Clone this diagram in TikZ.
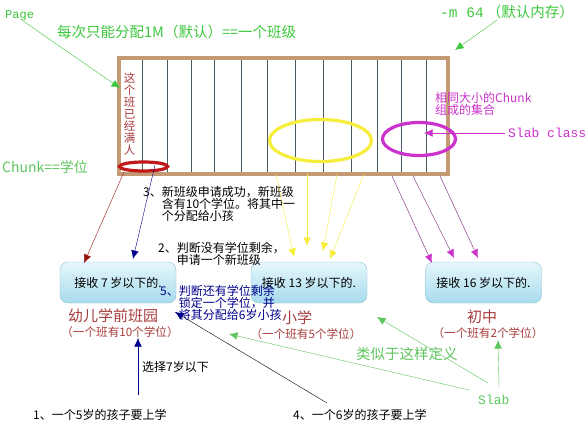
\documentclass[tikz,border=0pt]{standalone}
\usepackage{fontspec}
\setmainfont{Noto Sans CJK SC}
\newfontfamily\mono{Liberation Mono}
\usetikzlibrary{arrows.meta,shapes.geometric}
\definecolor{tgreen}{HTML}{3CC83C}
\definecolor{lgreen}{HTML}{5EC65E}
\definecolor{tanc}{HTML}{C49A74}
\definecolor{slate}{HTML}{4B5B66}
\definecolor{dred}{HTML}{A83C3C}
\definecolor{ered}{HTML}{C01818}
\definecolor{mag}{HTML}{CC33CC}
\definecolor{navy}{HTML}{00008C}
\definecolor{yel}{HTML}{F6EE3A}
\definecolor{purp}{HTML}{7A1A7A}
\definecolor{boxtop}{HTML}{E6F7FC}
\definecolor{boxbot}{HTML}{A6DBEC}
\definecolor{boxline}{HTML}{8CC2D4}
\tikzset{
  lbl/.style={inner sep=0pt},
  arr/.style={-{Latex[length=8.5pt,width=7.5pt]}},
  stepbox/.style={draw=boxline, rounded corners=8pt, top color=boxtop, bottom color=boxbot,
    minimum width=116pt, minimum height=41pt, inner sep=0pt, font=\fontsize{12}{12}\selectfont},
  ring/.style={ellipse, inner sep=0pt, line width=3.2pt},
  f12/.style={font=\fontsize{12}{11}\selectfont},
}
\begin{document}
\begin{tikzpicture}[x=1pt,y=-1pt]
\useasboundingbox (0,0) rectangle (588,428);
\fill[white] (0,0) rectangle (588,428);

% memory block
\foreach \x in {142,167,191,214,241,267,295,323,351,377,401,426}
  \draw[slate, line width=0.8pt] (\x,58) -- (\x,174);
\draw[tanc, line width=3.2pt] (119,58) rectangle (448,174);

\node[lbl, dred, align=center, font=\fontsize{11.5}{12}\selectfont] (full) at (129.5,114) {这\\个\\班\\已\\经\\满\\人};

% ellipses
\node[ring, draw=ered, minimum width=48pt, minimum height=9pt] (redE) at (143.5,166.5) {};
\node[ring, draw=yel, minimum width=102pt, minimum height=42pt] (yelE) at (320.5,140.5) {};
\node[ring, draw=mag, minimum width=73pt, minimum height=33pt] (magE) at (419,139) {};

% top labels
\node[lbl, tgreen, anchor=west, font=\mono\fontsize{12}{12}\selectfont] (page) at (5,16) {Page};
\node[lbl, tgreen, anchor=west, font=\fontsize{14.5}{14.5}\selectfont] (once) at (57,32) {每次只能分配1M（默认）==一个班级};
\node[lbl, tgreen, anchor=west, font=\fontsize{14.5}{14.5}\selectfont] (mopt) at (440,12) {{\mono -m 64} （默认内存）};
\node[lbl, lgreen, anchor=west, font=\fontsize{14}{14}\selectfont] (chunk) at (2,167) {Chunk==学位};

\coordinate (pageT) at (120,88);
\coordinate (moptS) at (497,20);
\coordinate (moptT) at (455,50);
\draw[tgreen, arr] ([xshift=4pt]page.south) -- (pageT);
\draw[tgreen, arr] (moptS) -- (moptT);

% slab class
\node[lbl, mag, anchor=west, align=left, font=\fontsize{12}{12}\selectfont] (same) at (435,104) {相同大小的Chunk\\组成的集合};
\node[lbl, mag, anchor=west, font=\mono\fontsize{13}{13}\selectfont] (slabc) at (508,133) {Slab class};
\coordinate (slabcT) at (424,133);
\draw[mag, arr] ([xshift=-3pt]slabc.west) -- (slabcT);

% boxes
\node[stepbox] (b1) at (118,282.5) {接收 7 岁以下的.};
\node[stepbox] (b2) at (309,282.5) {接收 13 岁以下的.};
\node[stepbox] (b3) at (483.5,282.5) {接收 16 岁以下的.};

% labels under boxes
\node[lbl, dred, font=\fontsize{15}{15}\selectfont] (kg) at (113,316) {幼儿学前班园};
\node[lbl, dred, font=\fontsize{11.6}{11.6}\selectfont] (kgn) at (120,332) {（一个班有10个学位）};
\node[lbl, dred, font=\fontsize{15}{15}\selectfont] (ps) at (297,318) {小学};
\node[lbl, dred, font=\fontsize{11.6}{11.6}\selectfont] (psn) at (306,334) {（一个班有5个学位）};
\node[lbl, dred, font=\fontsize{15}{15}\selectfont] (ms) at (482,317) {初中};
\node[lbl, dred, font=\fontsize{11.6}{11.6}\selectfont] (msn) at (488,333) {（一个班有2个学位）};

% step texts
\node[lbl, f12, anchor=west, align=left] (s3) at (143,204) {3、新班级申请成功，新班级\\\hphantom{3、}含有10个学位。将其中一\\\hphantom{3、}个分配给小孩};
\node[lbl, f12, anchor=west, align=left] (s2) at (158,254) {2、判断没有学位剩余，\\\hphantom{2、}申请一个新班级};
\node[lbl, f12, navy, anchor=west, align=left] (s5) at (160,303) {5、判断还有学位剩余\\\hphantom{5、}锁定一个学位，并\\\hphantom{5、}将其分配给6岁小孩};
\node[lbl, f12, anchor=west] (choose) at (142,367) {选择7岁以下};
\node[lbl, f12, anchor=west] (s1) at (33,415) {1、一个5岁的孩子要上学};
\node[lbl, f12, anchor=west] (s4) at (293,415) {4、一个6岁的孩子要上学};
\node[lbl, lgreen, anchor=west, font=\mono\fontsize{13}{13}\selectfont] (slab) at (478,400) {Slab};
\node[lbl, lgreen, anchor=west, font=\fontsize{14.5}{14.5}\selectfont] (like) at (356,354) {类似于这样定义};

% red / blue arrows from the full class
\coordinate (rS) at (124,172);
\coordinate (rT) at (84,263);
\coordinate (bS) at (155,165);
\coordinate (bT) at (133,259);
\draw[ered!80!black, arr] (rS) -- (rT);
\draw[navy, arr] (bS) -- (bT);

% yellow arrows
\foreach \i/\sx/\tx/\ty in {1/276/294/257, 2/307/307/246, 3/337/323/251, 4/364/330/259}{
  \coordinate (ys\i) at (\sx,174);
  \coordinate (yt\i) at (\tx,\ty);
  \draw[yel, arr] (ys\i) -- (yt\i);
}

% purple arrows
\foreach \i/\sx/\tx/\ty in {1/392/432/263, 2/413/454/258, 3/440/478/258}{
  \coordinate (ps\i) at (\sx,176);
  \coordinate (pt\i) at (\tx,\ty);
  \draw[purp, -{Latex[length=8.5pt,width=7.5pt,color=mag]}] (ps\i) -- (pt\i);
}

% child arrows
\coordinate (c1S) at (138,395);
\coordinate (c1T) at (138,338);
\draw[navy, arr] (c1S) -- (c1T);
\coordinate (c4S) at (327,403);
\coordinate (c4T) at (175,312);
\draw[black, -{Latex[length=8.5pt,width=7.5pt,color=navy]}] (c4S) -- (c4T);

% slab arrows
\coordinate (g1S) at (488,383);
\coordinate (g1T) at (377,317);
\coordinate (g2S) at (469,390);
\coordinate (g2T) at (229,334);
\coordinate (g3S) at (499,388);
\coordinate (g3T) at (498,340);
\draw[lgreen, arr] (g1S) -- (g1T);
\draw[lgreen, arr] (g2S) -- (g2T);
\draw[lgreen, arr] (g3S) -- (g3T);
\end{tikzpicture}
\end{document}
